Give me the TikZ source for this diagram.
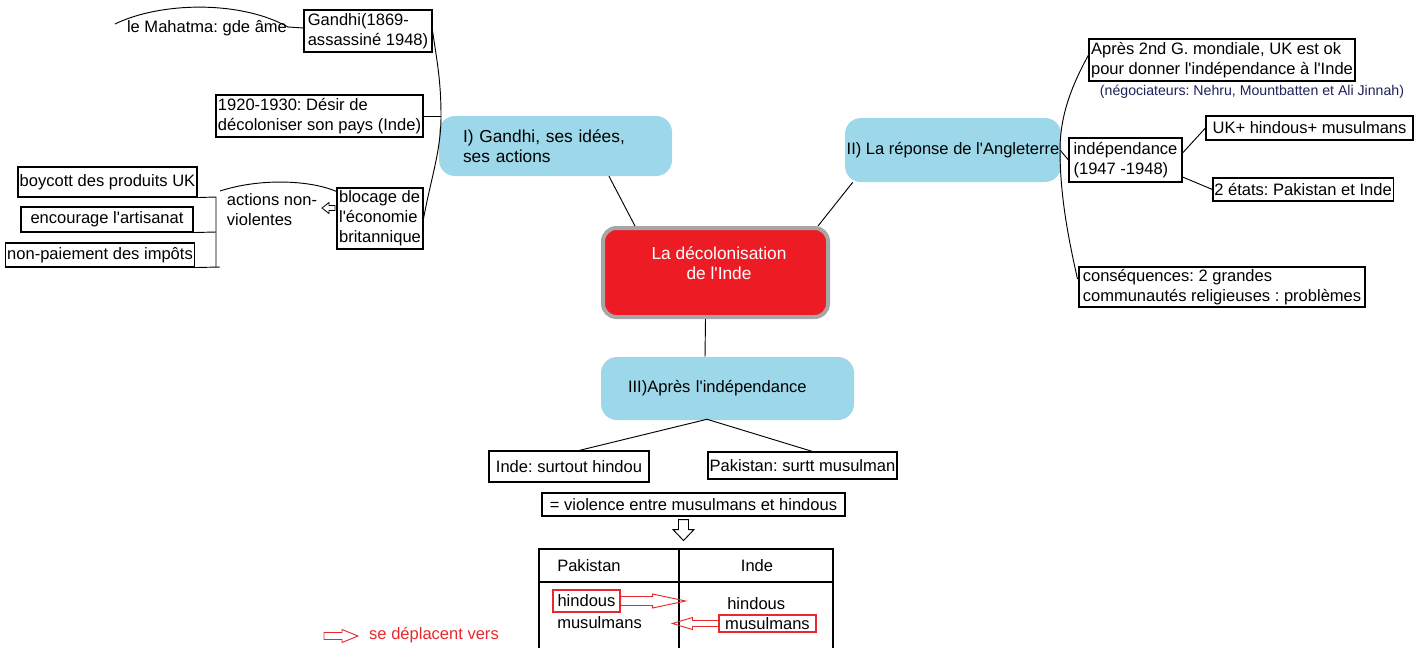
\documentclass[tikz,border=0pt]{standalone}
\usepackage{fontspec}
\setmainfont{Liberation Sans}[Ligatures=TeXOff]
\usetikzlibrary{calc}
\definecolor{bubblec}{HTML}{9CD8E9}
\definecolor{redc}{HTML}{ED1C24}
\definecolor{grayb}{HTML}{A6A6A6}
\definecolor{navyc}{HTML}{1F1F5C}
\definecolor{tred}{HTML}{E8282E}
\newcommand\harrowpath[4]{(0,-#3) -- ({#1-#2},-#3) -- ({#1-#2},-#4) -- (#1,0) -- ({#1-#2},#4) -- ({#1-#2},#3) -- (0,#3) -- cycle}
\begin{document}
\frenchspacing
\begin{tikzpicture}[x=0.75pt,y=-0.75pt,
  font=\fontsize{12.4}{15}\selectfont\frenchspacing,
  bx/.style={draw, line width=0.8pt, inner sep=1pt, align=left},
  rbx/.style={draw=tred, line width=0.8pt, inner sep=1pt},
  bubble/.style={fill=bubblec, rounded corners=12pt, inner sep=0pt, align=left},
  ln/.style={line width=0.7pt},
  txt/.style={inner sep=0pt, align=left}]
\useasboundingbox (0,0) rectangle (1426,647);

% ---------- central node ----------
\node[fill=redc, draw=grayb, line width=3pt, rounded corners=10pt,
      minimum width=168.75pt, minimum height=66.75pt] (red) at (715.5,272.5) {};
\node[txt, align=center, text=white, font=\fontsize{13}{15}\selectfont] (redtxt) at (719,263) {La décolonisation\\de l'Inde};

% ---------- bubbles ----------
\node[bubble, minimum width=174.75pt, minimum height=45pt, inner xsep=18pt,
      text width=138.75pt, font=\fontsize{13}{15}\selectfont] (inode) at (555.5,146) {I) Gandhi, ses idées,\\ses actions};
\node[bubble, minimum width=162pt, minimum height=48pt] (iinode) at (953,150) {II) La réponse de l'Angleterre};
\node[bubble, minimum width=189.75pt, minimum height=47.25pt, inner xsep=20pt,
      text width=149.25pt] (iii) at (727.5,388.5) {III)Après l'indépendance};

% ---------- left part ----------
\node[bx, minimum width=96pt, minimum height=31.5pt] (gandhi) at (368,31) {Gandhi(1869-\\assassiné 1948)};
\node[txt] (mahatma) at (207,28) {le Mahatma: gde âme};
\node[bx, minimum width=155.25pt, minimum height=31.5pt] (desir) at (319.5,116) {1920-1930: Désir de\\décoloniser son pays (Inde)};
\node[bx, minimum width=64.5pt, minimum height=45.75pt] (blocage) at (380,218.5) {blocage de\\l'économie\\britannique};
\node[txt] (actions) at (272,210) {actions non-\\violentes};
\node[bx, minimum width=134.25pt, minimum height=22.5pt] (boycott) at (107.5,182) {boycott des produits UK};
\node[bx, minimum width=129pt, minimum height=18.75pt] (artisanat) at (107,219.5) {encourage l'artisanat};
\node[bx, minimum width=139.5pt, minimum height=18pt] (impots) at (100,255) {non-paiement des impôts};

\coordinate (icurve) at (441,116);
\coordinate (mA) at (288,27);
\coordinate (mB) at (115,24);
\coordinate (acurve) at (220,191);
\coordinate (brTop) at (216,197);
\coordinate (brMid) at (216,232);
\coordinate (brBot) at (216,267);
\coordinate (brEnd) at (220,267);

\draw[ln] (gandhi.east) .. controls (437,61) and (441,81) .. (icurve)
          .. controls (441,151) and (431,178) .. (blocage.east);
\draw[ln] (desir.east) -- (icurve);
\draw[ln] ($(gandhi.west)+(0,-3)$) -- (mA) .. controls (240,0) and (160,2) .. (mB);
\draw[ln] ($(blocage.north west)+(0,4)$) .. controls (310,180) and (260,178) .. (acurve);
\draw[ln] (boycott.south east) -- (brTop) -- (brBot);
\draw[ln] (artisanat.south east) -- (brMid);
\draw[ln] (impots.south east) -- (brEnd);
\coordinate (sarr) at (335,208);
\draw[line width=0.6pt, shift={(sarr)}, xscale=-1] \harrowpath{13}{7}{2.5}{5.5};

% ---------- right part ----------
\node[bx, minimum width=199.5pt, minimum height=31.5pt] (apres) at (1222,60) {Après 2nd G. mondiale, UK est ok\\pour donner l'indépendance à l'Inde};
\node[txt, text=navyc, font=\fontsize{10.6}{13}\selectfont] (nego) at (1252,92) {(négociateurs: Nehru, Mountbatten et Ali Jinnah)};
\node[bx, minimum width=84.75pt, minimum height=33pt] (indep) at (1125.5,160) {indépendance\\(1947 -1948)};
\node[bx, minimum width=155.25pt, minimum height=18pt] (ukbox) at (1309.5,128) {UK+ hindous+ musulmans};
\node[bx, minimum width=135pt, minimum height=17.25pt] (etats) at (1303,189.5) {2 états: Pakistan et Inde};
\node[bx, minimum width=214.5pt, minimum height=30pt] (conseq) at (1222,287) {conséquences: 2 grandes\\communautés religieuses : problèmes};

\coordinate (rc) at (1060,150);
\draw[ln] ($(apres.west)+(0,-5)$) .. controls (1072,85) and (1060,115) .. (rc)
          .. controls (1060,200) and (1070,245) .. ($(conseq.west)+(-1,-8)$);
\draw[ln] (rc) -- (indep.west);
\draw[ln] ($(indep.east)+(0,-7)$) -- (ukbox.west);
\draw[ln] ($(indep.east)+(0,17)$) -- (etats.west);

% ---------- centre connectors ----------
\draw[ln] ($(inode.south)+(53.5,0)$) -- ($(red.north west)+(34,0)$);
\draw[ln] ($(iinode.south west)+(8,0)$) -- ($(red.north east)+(-12,0)$);
\draw[ln] ($(red.south)+(-10,0)$) -- ($(iii.north)+(-22.5,0)$);

% ---------- bottom part ----------
\node[bx, minimum width=120pt, minimum height=23.25pt] (inde) at (569,466.5) {Inde: surtout hindou};
\node[bx, minimum width=141.75pt, minimum height=20.25pt] (pak) at (802.5,465.5) {Pakistan: surtt musulman};
\coordinate (apex) at ($(iii.south)+(-20.5,-1)$);
\draw[ln] ($(inde.north)+(10,0)$) -- (apex) -- ($(pak.north)+(10,0)$);
\node[bx, minimum width=227.25pt, minimum height=17.25pt] (viol) at (693.5,504.5) {= violence entre musulmans et hindous};
\coordinate (darr) at ($(viol.south)+(-10,3)$);
\draw[line width=0.7pt, shift={(darr)}, rotate=-90] \harrowpath{21}{11}{5}{10.5};

% table
\coordinate (tNW) at (539,549);
\coordinate (tNE) at (833,549);
\coordinate (tSW) at (539,648);
\coordinate (tSE) at (833,648);
\coordinate (hW) at (539,582);
\coordinate (hE) at (833,582);
\coordinate (dN) at (679,549);
\coordinate (dS) at (679,648);
\draw[line width=1.5pt] (tSW) -- (tNW) -- (tNE) -- (hE);
\draw[line width=0.8pt] (hE) -- (tSE);
\draw[line width=0.8pt] (hW) -- (hE);
\draw[line width=0.8pt] (dN) -- (dS);
\node[txt, anchor=west] (tpak) at (557,566) {Pakistan};
\node[txt] (tinde) at (757,566) {Inde};
\node[rbx, minimum width=50.25pt, minimum height=16.5pt] (hin) at (586.5,601) {hindous};
\node[txt, anchor=west] (mus1) at (557,623) {musulmans};
\node[txt, anchor=west] (hin2) at (727,604) {hindous};
\node[rbx, minimum width=72.75pt, minimum height=12.75pt] (mus2) at (767.5,623.5) {musulmans};
\draw[tred, line width=0.7pt, shift={(hin.east)}] \harrowpath{65}{33}{4.5}{7};
\draw[tred, line width=0.7pt, shift={(mus2.west)}, xscale=-1] \harrowpath{46}{20}{3}{6};

% legend
\coordinate (larr) at (324,636);
\draw[tred, line width=0.7pt, shift={(larr)}] \harrowpath{34}{16}{3.5}{6.5};
\node[txt, text=tred] (legend) at (434,635) {se déplacent vers};
\end{tikzpicture}
\end{document}
